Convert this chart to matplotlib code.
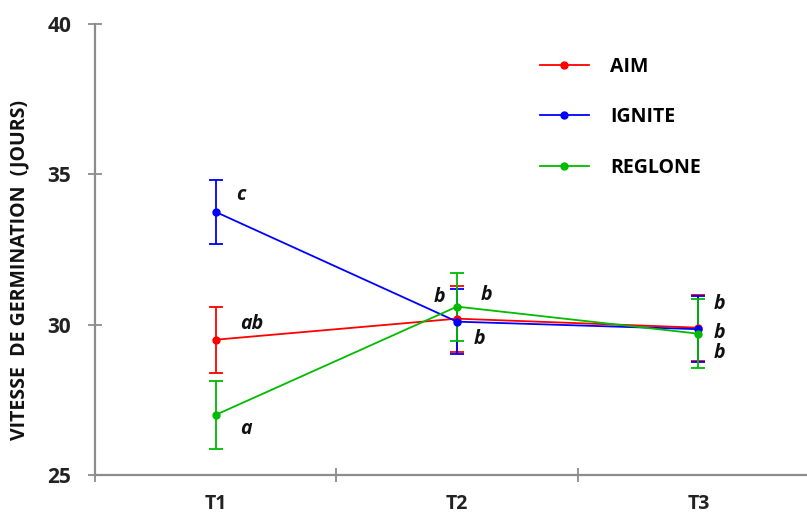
import numpy as np
import matplotlib.pyplot as plt
from matplotlib.lines import Line2D

plt.rcParams['font.family'] = ['Open Sans', 'DejaVu Sans']

categories = ['T1', 'T2', 'T3']
series_names = ['AIM', 'IGNITE', 'REGLONE']
aim = [29.5, 30.2, 29.9]
aim_err = [1.1, 1.1, 1.1]
ignite = [33.75, 30.1, 29.85]
ignite_err = [1.07, 1.07, 1.1]
reglone = [27.0, 30.6, 29.7]
reglone_err = [1.12, 1.13, 1.15]

aim_letters = ['ab', 'b', 'b']
ignite_letters = ['c', 'b', 'b']
reglone_letters = ['a', 'b', 'b']

colors = ['#ff0000', '#0000ff', '#00bb00']

fig = plt.figure(figsize=(8.07, 5.17), dpi=100)
ax = fig.add_axes([0.1177, 0.0812, 0.8823, 0.8724])

x = np.arange(len(categories))
all_vals = [aim, ignite, reglone]
all_err = [aim_err, ignite_err, reglone_err]
handles = []
for name, vals, err, c in zip(series_names, all_vals, all_err, colors):
    ax.errorbar(x, vals, yerr=err, color=c, marker='o', markersize=5,
                linewidth=1.3, elinewidth=1.3, capsize=5, capthick=1.3)
    handles.append(Line2D([], [], color=c, marker='o', markersize=5,
                          linewidth=1.3, label=name))

# significance letters (offsets in points from each point)
def put(letter, xi, yi, dx, dy):
    ax.annotate(letter, (xi, yi), xytext=(dx, dy), textcoords='offset points',
                ha='center', va='center', fontsize=14, fontweight='bold',
                style='italic', color='#111111')

put(ignite_letters[0], 0, ignite[0], 18, 12)
put(aim_letters[0], 0, aim[0], 26, 11)
put(reglone_letters[0], 0, reglone[0], 22, -10)
put(reglone_letters[1], 1, reglone[1], -13, 7)
put(ignite_letters[1], 1, ignite[1], 21, 19)
put(aim_letters[1], 1, aim[1], 16, -15)
put(aim_letters[2], 2, aim[2], 15, 17)
put(ignite_letters[2], 2, ignite[2], 15, -3)
put(reglone_letters[2], 2, reglone[2], 15, -14)

ax.set_xlim(-0.5, 2.45)
ax.set_ylim(25, 40)
ax.set_yticks([25, 30, 35, 40])
ax.set_xticks([-0.5, 0.5, 1.5], minor=False)
ax.set_xticklabels([])
ax.set_xticks(x, minor=True)
ax.set_xticklabels(categories, minor=True)

for s in ['top', 'right']:
    ax.spines[s].set_visible(False)
for s in ['left', 'bottom']:
    ax.spines[s].set_color('#8c8c8c')
    ax.spines[s].set_linewidth(1.6)

ax.tick_params(axis='both', which='major', direction='inout', length=10,
               width=1.3, color='#8c8c8c', labelsize=15)
ax.tick_params(axis='x', which='minor', length=0, pad=14, labelsize=14)
ax.tick_params(axis='y', pad=12)
for lab in ax.get_yticklabels() + ax.get_xticklabels(minor=True):
    lab.set_fontweight('bold')
    lab.set_color('#222222')

ax.set_ylabel('VITESSE  DE GERMINATION  (JOURS)', fontsize=14,
              fontweight='bold', color='#111111')
ax.yaxis.set_label_coords(-0.092, 0.455)

ax.legend(handles=handles, loc='upper left', bbox_to_anchor=(0.625, 0.927),
          frameon=False, borderpad=0, borderaxespad=0, labelspacing=1.56,
          handlelength=2.5, handletextpad=1.1,
          prop={'weight': 'bold', 'size': 14})

plt.savefig('out.png', dpi=100)
